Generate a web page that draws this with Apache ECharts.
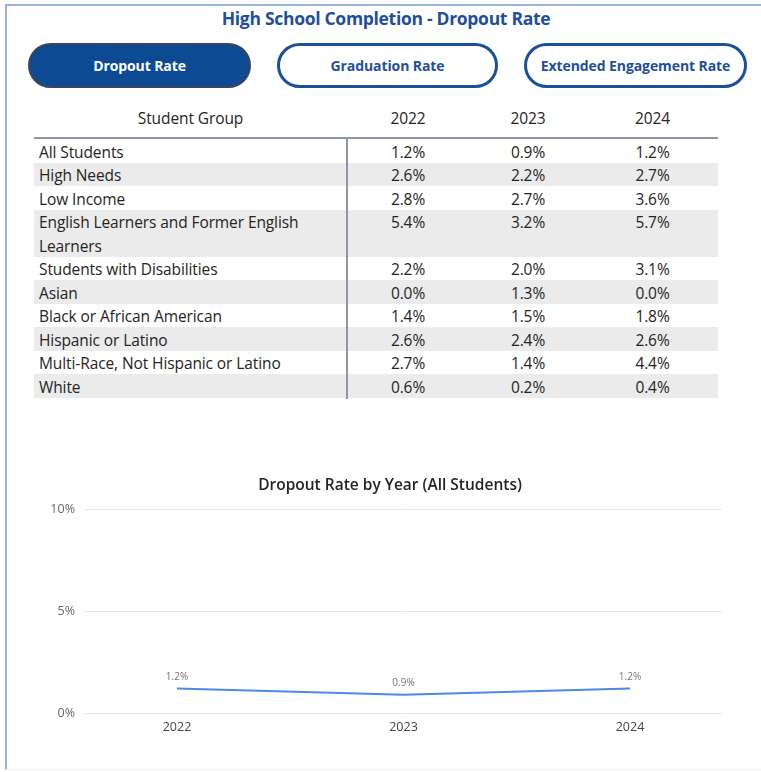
<!DOCTYPE html>
<html>
<head>
<meta charset="utf-8">
<script src="https://cdn.jsdelivr.net/npm/echarts@6/dist/echarts.min.js"></script>
<style>
  html, body { margin: 0; padding: 0; background: #fff; }
  body { width: 761px; height: 772px; position: relative; overflow: hidden; font-family: "Open Sans", "Noto Sans", sans-serif; color: #252423; }
  #frame { position: absolute; left: 5px; top: 4px; right: 0; bottom: 2px; border-left: 2px solid #9bb3de; border-top: 2px solid #9bb3de; border-bottom: 1px solid #f0f0f0; }
  #title { position: absolute; left: 0; width: 772px; top: 6px; text-align: center; font-size: 17.5px; font-weight: 700; color: #1f4f9b; letter-spacing: -0.3px; }
  .btn { position: absolute; top: 43px; height: 45px; box-sizing: border-box; border-radius: 23px; border: 3px solid #1c4f9c; background: #fff; color: #1f4f9b; font-size: 14px; font-weight: 700; display: flex; align-items: center; justify-content: center; letter-spacing: -0.1px; }
  .btn.active { background: #0d4a94; color: #fff; border: 2px solid #3b4657; }
  #table { position: absolute; left: 34px; top: 104px; width: 684px; font-size: 15.5px; letter-spacing: -0.1px; }
  .row { display: flex; width: 684px; line-height: 23.5px; }
  .row.alt { background: #ebebeb; }
  .cell { box-sizing: border-box; position: relative; top: 1.5px; }
  .c0 { width: 313px; padding-left: 5px; }
  .c1 { width: 122px; text-align: center; }
  .c2 { width: 118px; text-align: center; }
  .c3 { width: 131px; text-align: center; }
  .head { height: 33px; line-height: 28px; border-bottom: 2px solid #8d96a8; }
  .head .cell { top: 0; }
  .head .c0 { text-align: center; padding-left: 0; }
  #vline { position: absolute; left: 346px; top: 138px; width: 2px; height: 261px; background: #8d96a8; }
  #chart { position: absolute; left: 0; top: 440px; width: 761px; height: 332px; }
</style>
</head>
<body>
<div id="frame"></div>
<div id="title"></div>
<div id="buttons"></div>
<div id="table"></div>
<div id="vline"></div>
<div id="chart"></div>
<script>
// Page heading and view selector labels
const pageTitle = 'High School Completion - Dropout Rate';
const viewButtons = ['Dropout Rate', 'Graduation Rate', 'Extended Engagement Rate'];
const activeView = 0;

// Dropout rate (%) by student group and school year
const years = ['2022', '2023', '2024'];
const groups = [
  'All Students',
  'High Needs',
  'Low Income',
  'English Learners and Former English Learners',
  'Students with Disabilities',
  'Asian',
  'Black or African American',
  'Hispanic or Latino',
  'Multi-Race, Not Hispanic or Latino',
  'White'
];
const rate2022 = [1.2, 2.6, 2.8, 5.4, 2.2, 0.0, 1.4, 2.6, 2.7, 0.6];
const rate2023 = [0.9, 2.2, 2.7, 3.2, 2.0, 1.3, 1.5, 2.4, 1.4, 0.2];
const rate2024 = [1.2, 2.7, 3.6, 5.7, 3.1, 0.0, 1.8, 2.6, 4.4, 0.4];

// Line chart: all students trend
const chartTitle = 'Dropout Rate by Year (All Students)';
const allStudents = [rate2022[0], rate2023[0], rate2024[0]];
const yTicks = [0, 5, 10];

const fmt = v => v.toFixed(1) + '%';

document.getElementById('title').textContent = pageTitle;

// selector buttons
const btnLeft = [28, 277, 524];
const btnWidth = [223, 221, 223];
const btnHost = document.getElementById('buttons');
viewButtons.forEach((label, i) => {
  const b = document.createElement('div');
  b.className = 'btn' + (i === activeView ? ' active' : '');
  b.style.left = btnLeft[i] + 'px';
  b.style.width = btnWidth[i] + 'px';
  b.textContent = label;
  btnHost.appendChild(b);
});

// table
const tbl = document.getElementById('table');
const head = document.createElement('div');
head.className = 'row head';
['Student Group'].concat(years).forEach((t, i) => {
  const c = document.createElement('div');
  c.className = 'cell c' + i;
  c.textContent = t;
  head.appendChild(c);
});
tbl.appendChild(head);
const cols = [rate2022, rate2023, rate2024];
groups.forEach((g, r) => {
  const row = document.createElement('div');
  row.className = 'row' + (r % 2 === 1 ? ' alt' : '');
  const c0 = document.createElement('div');
  c0.className = 'cell c0';
  c0.textContent = g;
  row.appendChild(c0);
  cols.forEach((col, k) => {
    const c = document.createElement('div');
    c.className = 'cell c' + (k + 1);
    c.textContent = fmt(col[r]);
    row.appendChild(c);
  });
  tbl.appendChild(row);
});

// trend chart
const chart = echarts.init(document.getElementById('chart'), null, { renderer: 'canvas' });
const gridTop = 69, gridHeight = 204;
chart.setOption({
  animation: false,
  title: {
    text: chartTitle,
    left: 385, top: 33, textAlign: 'center',
    textStyle: { fontFamily: 'Open Sans', fontSize: 15.5, fontWeight: 600, color: '#252423' }
  },
  grid: [
    { left: 85, right: 39, top: gridTop, height: gridHeight },
    { left: 177, right: 131, top: gridTop, height: gridHeight }
  ],
  xAxis: [
    { gridIndex: 0, type: 'category', data: years, show: false },
    {
      gridIndex: 1, type: 'category', data: years, boundaryGap: false,
      axisLine: { show: false }, axisTick: { show: false },
      axisLabel: { color: '#444', fontFamily: 'Open Sans', fontSize: 12.5, margin: 8 }
    }
  ],
  yAxis: [
    {
      gridIndex: 0, type: 'value', min: yTicks[0], max: yTicks[yTicks.length - 1], interval: 5,
      axisLine: { show: false }, axisTick: { show: false },
      axisLabel: { color: '#666', fontFamily: 'Open Sans', fontSize: 12.5, margin: 10, formatter: v => v + '%' },
      splitLine: { lineStyle: { color: '#e8e8e8', width: 1 } }
    },
    {
      gridIndex: 1, type: 'value', min: yTicks[0], max: yTicks[yTicks.length - 1], interval: 5,
      show: false, splitLine: { show: false }
    }
  ],
  series: [{
    type: 'line',
    xAxisIndex: 1, yAxisIndex: 1,
    data: allStudents,
    symbol: 'circle', symbolSize: 0, showSymbol: true,
    lineStyle: { color: '#4a8ae4', width: 2 },
    itemStyle: { color: '#4a8ae4' },
    label: {
      show: true, position: 'top', distance: 6,
      color: '#777', fontFamily: 'Open Sans', fontSize: 10,
      formatter: p => fmt(p.value)
    }
  }]
});
</script>
</body>
</html>
